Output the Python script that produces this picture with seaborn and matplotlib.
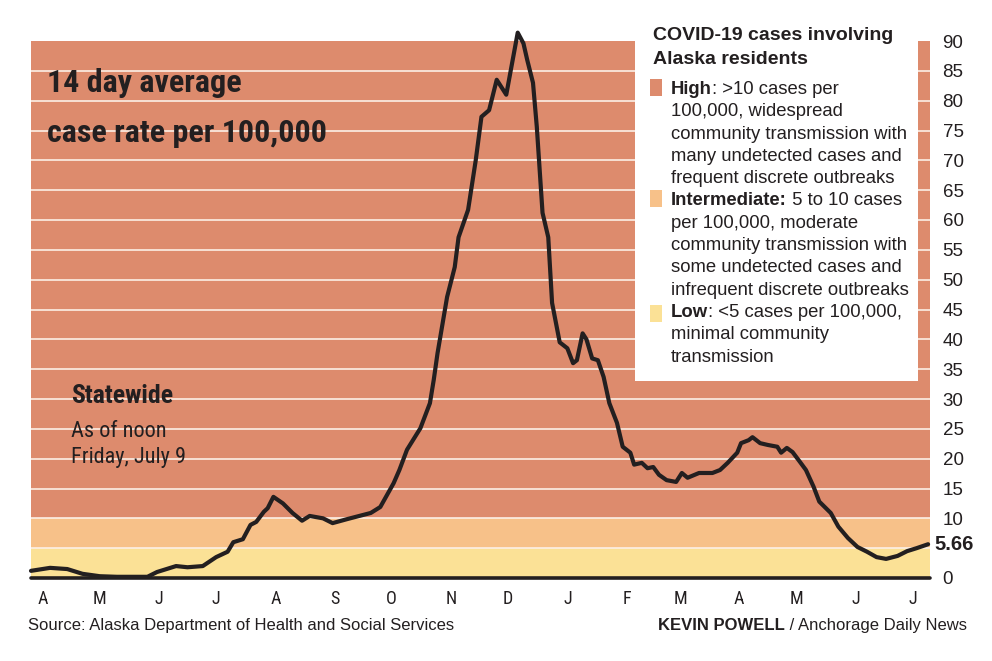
import pandas as pd
import matplotlib
matplotlib.use("Agg")
import matplotlib.pyplot as plt
import matplotlib.transforms as mtransforms
from matplotlib import font_manager as fm
from matplotlib.patches import Rectangle
import seaborn as sns

# 14 day average case rate per 100,000
dates = [
    "2020-03-26", "2020-04-05", "2020-04-14", "2020-04-22", "2020-05-01", "2020-05-10",
    "2020-05-26", "2020-05-31", "2020-06-05", "2020-06-10", "2020-06-16", "2020-06-24",
    "2020-07-01", "2020-07-07", "2020-07-10", "2020-07-15", "2020-07-19", "2020-07-22",
    "2020-07-26", "2020-07-28", "2020-07-31", "2020-08-05", "2020-08-10", "2020-08-15",
    "2020-08-19", "2020-08-26", "2020-08-31", "2020-09-08", "2020-09-14", "2020-09-20",
    "2020-09-25", "2020-10-02", "2020-10-05", "2020-10-09", "2020-10-16", "2020-10-21",
    "2020-10-23", "2020-10-25", "2020-10-30", "2020-11-03", "2020-11-05", "2020-11-10",
    "2020-11-14", "2020-11-17", "2020-11-21", "2020-11-25", "2020-11-30", "2020-12-06",
    "2020-12-09", "2020-12-11", "2020-12-14", "2020-12-16", "2020-12-19", "2020-12-22",
    "2020-12-24", "2020-12-28", "2021-01-01", "2021-01-04", "2021-01-06", "2021-01-09",
    "2021-01-11", "2021-01-14", "2021-01-17", "2021-01-20", "2021-01-23", "2021-01-27",
    "2021-01-30", "2021-02-03", "2021-02-05", "2021-02-09", "2021-02-12", "2021-02-15",
    "2021-02-18", "2021-02-22", "2021-02-27", "2021-03-02", "2021-03-05", "2021-03-11",
    "2021-03-18", "2021-03-22", "2021-03-26", "2021-03-31", "2021-04-02", "2021-04-06",
    "2021-04-08", "2021-04-12", "2021-04-16", "2021-04-21", "2021-04-23", "2021-04-26",
    "2021-04-29", "2021-05-03", "2021-05-06", "2021-05-10", "2021-05-13", "2021-05-19",
    "2021-05-23", "2021-05-28", "2021-06-02", "2021-06-07", "2021-06-12", "2021-06-17",
    "2021-06-23", "2021-06-28", "2021-07-03", "2021-07-09",
]
rate = [
    1.2, 1.7, 1.5, 0.7, 0.3, 0.2,
    0.2, 1.0, 1.5, 2.0, 1.8, 2.0,
    3.5, 4.4, 6.0, 6.5, 8.9, 9.4,
    11.1, 11.7, 13.6, 12.5, 10.9, 9.6,
    10.4, 10.0, 9.2, 9.9, 10.4, 10.9,
    11.9, 15.9, 18.1, 21.5, 25.1, 29.3,
    33.2, 37.7, 47.1, 52.1, 57.1, 61.7,
    70.0, 77.3, 78.4, 83.5, 81.0, 91.4,
    89.6, 86.8, 83.0, 75.6, 61.2, 57.1,
    46.1, 39.5, 38.5, 36.0, 36.5, 41.0,
    40.0, 36.8, 36.5, 33.7, 29.3, 26.0,
    22.0, 21.0, 19.0, 19.3, 18.4, 18.6,
    17.3, 16.4, 16.1, 17.6, 16.8, 17.6,
    17.6, 18.1, 19.3, 21.0, 22.6, 23.1,
    23.6, 22.6, 22.3, 22.0, 21.0, 21.8,
    21.1, 19.4, 18.1, 15.3, 12.8, 10.9,
    8.6, 6.7, 5.2, 4.4, 3.5, 3.2,
    3.7, 4.5, 5.0, 5.66,
]
latest = 5.66

month_ticks = pd.date_range("2020-04-01", "2021-07-01", freq="MS")
month_labels = ["A", "M", "J", "J", "A", "S", "O", "N", "D", "J", "F", "M", "A", "M", "J", "J"]
y_ticks = [0, 10, 15, 20, 25, 30, 35, 40, 45, 50, 55, 60, 65, 70, 75, 80, 85, 90]

band_lo = [0, 5, 10]
band_hi = [5, 10, 90]
band_colors = ["#fbe196", "#f7c189", "#dd8b6d"]

legend_title = ["COVID-19 cases involving", "Alaska residents"]
legend_lines = [
    ("High", ": >10 cases per"),
    ("", "100,000, widespread"),
    ("", "community transmission with"),
    ("", "many undetected cases and"),
    ("", "frequent discrete outbreaks"),
    ("Intermediate:", " 5 to 10 cases"),
    ("", "per 100,000, moderate"),
    ("", "community transmission with"),
    ("", "some undetected cases and"),
    ("", "infrequent discrete outbreaks"),
    ("Low", ": <5 cases per 100,000,"),
    ("", "minimal community"),
    ("", "transmission"),
]

INK = "#231f20"

# look for a condensed sans among the installed fonts
cond = {}
for f in fm.fontManager.ttflist:
    if f.stretch in ("condensed", "semi-condensed") and f.style == "normal":
        cond.setdefault(f.name, set()).add(f.stretch)
prefs = ["Roboto Condensed", "Liberation Sans Narrow", "Open Sans Condensed",
         "Noto Sans Condensed", "DejaVu Sans Condensed"]
narrow_name = next((p for p in prefs if p in cond), None)
if narrow_name is None and cond:
    narrow_name = sorted(cond, key=len)[0]
if narrow_name:
    NARROW = dict(fontfamily=[narrow_name, "DejaVu Sans"],
                  fontstretch=sorted(cond[narrow_name])[0])
    scale = 1.0
else:
    NARROW = dict(fontfamily=["Liberation Sans", "DejaVu Sans"])
    scale = 0.82

sns.set_theme(style="white")
plt.rcParams["font.family"] = ["Liberation Sans", "DejaVu Sans"]
plt.rcParams["text.color"] = INK

W, H = 992, 661
fig = plt.figure(figsize=(W / 100, H / 100), dpi=100)
fig.patch.set_facecolor("white")


def fx(x):
    return x / W


def fy(y):
    return 1 - y / H


ax = fig.add_axes([fx(31), fy(578), (930 - 31) / W, (578 - 41) / H])

# risk bands and white grid lines
for lo, hi, c in zip(band_lo, band_hi, band_colors):
    ax.axhspan(lo, hi, color=c, lw=0, zorder=0)
for v in range(5, 90, 5):
    ax.axhline(v, color="#fcefe6", lw=1.2, zorder=1)

# white legend box sits on top of the bands
ax.add_patch(Rectangle((fx(635), fy(381)), (918 - 635) / W, (381 - 30) / H,
                       transform=fig.transFigure, facecolor="white", lw=0,
                       zorder=2, clip_on=False))

df = pd.DataFrame({"date": pd.to_datetime(dates), "rate": rate})
sns.lineplot(data=df, x="date", y="rate", ax=ax, color=INK, lw=3, zorder=3)
ax.lines[-1].set_clip_on(False)
ax.axhline(0, color=INK, lw=2.6, zorder=4, clip_on=False)

ax.set_xlim(pd.Timestamp("2020-03-26"), pd.Timestamp("2021-07-10"))
ax.set_ylim(0, 90)
ax.set_xlabel("")
ax.set_ylabel("")
for s in ax.spines.values():
    s.set_visible(False)

ax.set_xticks(month_ticks)
ax.set_xticklabels(month_labels, fontsize=13 * scale, color=INK, **NARROW)
ax.tick_params(axis="x", length=0, pad=9)
ax.yaxis.tick_right()
ax.set_yticks(y_ticks)
ax.set_yticklabels([str(t) for t in y_ticks], fontsize=13.5, color=INK)
ax.tick_params(axis="y", length=0, pad=9)

blend = mtransforms.blended_transform_factory(ax.transAxes, ax.transData)
ax.text(1.005, latest, f"{latest:.2f}", transform=blend, va="center", ha="left",
        fontsize=14.5, fontweight="bold", color=INK)

# headline
fig.text(fx(47), fy(92), "14 day average", va="baseline", fontweight="bold",
         fontsize=23 * scale, color=INK, **NARROW)
fig.text(fx(47), fy(142), "case rate per 100,000", va="baseline", fontweight="bold",
         fontsize=23 * scale, color=INK, **NARROW)

fig.text(fx(71), fy(403), "Statewide", va="baseline", fontweight="bold",
         fontsize=18.5 * scale, color=INK, **NARROW)
fig.text(fx(71), fy(437), "As of noon", va="baseline", fontsize=16 * scale,
         color=INK, **NARROW)
fig.text(fx(71), fy(463), "Friday, July 9", va="baseline", fontsize=16 * scale,
         color=INK, **NARROW)

# legend
fig.text(fx(653), fy(40), legend_title[0], va="baseline", fontweight="bold", fontsize=14)
fig.text(fx(653), fy(64), legend_title[1], va="baseline", fontweight="bold", fontsize=14)

swatch_tops = [79, 190, 305]
for top, c in zip(swatch_tops, band_colors[::-1]):
    fig.patches.append(Rectangle((fx(650), fy(top + 17)), 12 / W, 17 / H,
                                 transform=fig.transFigure, facecolor=c, lw=0))

for i, (bold, rest) in enumerate(legend_lines):
    base = fy(94 + 22.3 * i)
    if bold:
        t = fig.text(fx(671), base, bold, va="baseline", fontweight="bold", fontsize=13.3)
        ax.annotate(rest, xy=(1, 0), xycoords=t, va="bottom", ha="left",
                    fontsize=13.3, annotation_clip=False)
    else:
        fig.text(fx(671), base, rest, va="baseline", fontsize=13.3)

# footer
fig.text(fx(28), fy(630), "Source: Alaska Department of Health and Social Services",
         va="baseline", fontsize=12)
credit = fig.text(fx(967), fy(630), " / Anchorage Daily News", va="baseline",
                  ha="right", fontsize=12)
ax.annotate("KEVIN POWELL", xy=(0, 0), xycoords=credit, va="bottom", ha="right",
            fontsize=12, fontweight="bold", annotation_clip=False)

fig.savefig("out.png", dpi=100)
